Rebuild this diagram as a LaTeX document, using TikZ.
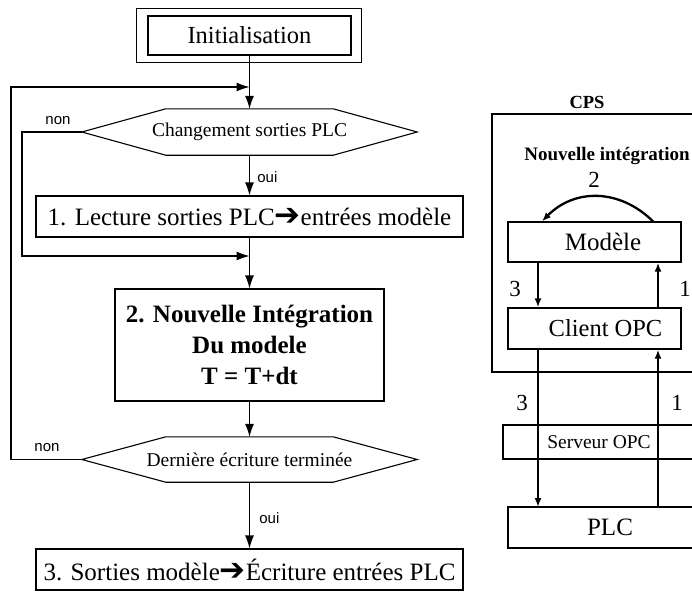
\documentclass[tikz,border=0pt]{standalone}
\usepackage{fontspec}
\setmainfont{Liberation Serif}
\newfontfamily\arialfont{Liberation Sans}
\newfontfamily\symfont{DejaVu Sans}
\usetikzlibrary{arrows.meta}
\newcommand{\harr}{{\symfont\fontsize{31}{31}\selectfont ➔}}
\newcommand{\drawhex}[1]{\draw[line width=1.1pt] (#1.west) -- ([xshift=84pt]#1.north west) -- ([xshift=-84pt]#1.north east) -- (#1.east) -- ([xshift=-84pt]#1.south east) -- ([xshift=84pt]#1.south west) -- cycle;}
\begin{document}
\begin{tikzpicture}[x=1pt,y=-1pt,
  box/.style={draw, line width=1.1pt, inner sep=0pt, align=center},
  big/.style={font=\fontsize{25}{31}\selectfont},
  mid/.style={font=\fontsize{19.5}{23}\selectfont},
  dec/.style={inner sep=0pt, minimum width=335pt, minimum height=46pt, mid},
  flow/.style={line width=1.1pt, -{Latex[length=13pt,width=9pt]}},
  lab/.style={font=\arialfont\fontsize{15}{18}\selectfont},
  rbox/.style={draw, line width=1.3pt, inner sep=0pt},
  thick arrow/.style={line width=2.3pt, -{Latex[length=9pt,width=7pt]}},
  num/.style={font=\fontsize{23}{27}\selectfont}]
\useasboundingbox (0,0) rectangle (692,592);
\clip (0,0) rectangle (692,592);
\fill[white] (0,0) rectangle (692,592);

% ---------- flowchart ----------
\node[box, font=\fontsize{24.5}{31}\selectfont, minimum width=203pt, minimum height=39pt] (init) at (249.5,35.5) {Initialisation};
\draw[line width=1.1pt] ([shift={(-11,-7)}]init.north west) rectangle ([shift={(10,7)}]init.south east);

\node[dec] (d1) at (249.5,132) {Changement sorties PLC};
\drawhex{d1}

\node[box, big, minimum width=427pt, minimum height=41pt] (b1) at (249.5,216.5) {1. Lecture sorties PLC\harr entrées modèle};

\node[box, minimum width=269pt, minimum height=112pt, font=\bfseries\fontsize{25}{31}\selectfont] (b2) at (249.5,345) {2. Nouvelle Intégration\\Du modele\\T = T+dt};

\node[dec, minimum height=45pt] (d2) at (249.5,459.5) {Dernière écriture terminée};
\drawhex{d2}

\node[box, big, minimum width=427pt, minimum height=41pt] (b3) at (249.5,569.5) {3. Sorties modèle\harr Écriture entrées PLC};

\coordinate (j1) at (249.5,87);
\coordinate (j2) at (249.5,256);

\draw[flow] (init.south) -- (d1.north);
\draw[flow] (d1.south) -- node[lab, right, xshift=4pt, yshift=-2pt] {oui} (b1.north);
\draw[flow] (b1.south) -- (b2.north);
\draw[flow] (b2.south) -- (d2.north);
\draw[flow] (d2.south) -- node[lab, right, xshift=6pt, yshift=-3pt] {oui} (b3.north);

\draw[flow] (d2.west) -- (11,459.5) -- (11,87) -- (j1);
\draw[flow] (d1.west) -- (22,132) -- (22,256) -- (j2);
\node[lab] (non1) at (58,121) {non};
\node[lab] (non2) at (47,448) {non};

% ---------- right side ----------
\node[font=\bfseries\fontsize{18.5}{22}\selectfont] (cps) at (587,102) {CPS};
\draw[line width=2pt] (720,114) -- (492,114) -- (492,372) -- (720,372);
\node[font=\bfseries\fontsize{19}{23}\selectfont] (nint) at (607,156) {Nouvelle intégration};
\node[num] (n2) at (594,180) {2};

\node[rbox, minimum width=173pt, minimum height=40pt, font=\fontsize{25}{30}\selectfont] (model) at (594.5,242) {\hspace*{17pt}Modèle};
\node[rbox, minimum width=173pt, minimum height=41pt, font=\fontsize{24.5}{30}\selectfont] (client) at (594.5,328.5) {\hspace*{22pt}Client OPC};
\node[rbox, minimum width=192pt, minimum height=34pt, font=\fontsize{19.5}{23}\selectfont] (serv) at (599,442) {Serveur OPC};
\node[rbox, minimum width=204pt, minimum height=41pt, font=\fontsize{25}{30}\selectfont] (plc) at (610,527.5) {PLC};

\draw[thick arrow] ([xshift=58.5pt]model.north) .. controls ([xshift=25pt,yshift=33pt]model.north) and ([xshift=-20pt,yshift=33pt]model.north) .. ([xshift=-52.5pt]model.north);

\draw[thick arrow] ([xshift=-56.5pt]model.south) -- ([xshift=-56.5pt]client.north);
\draw[thick arrow] ([xshift=63.5pt]client.north) -- ([xshift=63.5pt]model.south);
\node[num] (n3a) at (515,289) {3};
\node[num] (n1a) at (685,289) {1};

\draw[thick arrow] ([xshift=-56.5pt]client.south) -- (538,507);
\draw[thick arrow] (658,507) -- ([xshift=63.5pt]client.south);
\node[num] (n3b) at (522,403) {3};
\node[num] (n1b) at (677,403) {1};
\end{tikzpicture}
\end{document}
